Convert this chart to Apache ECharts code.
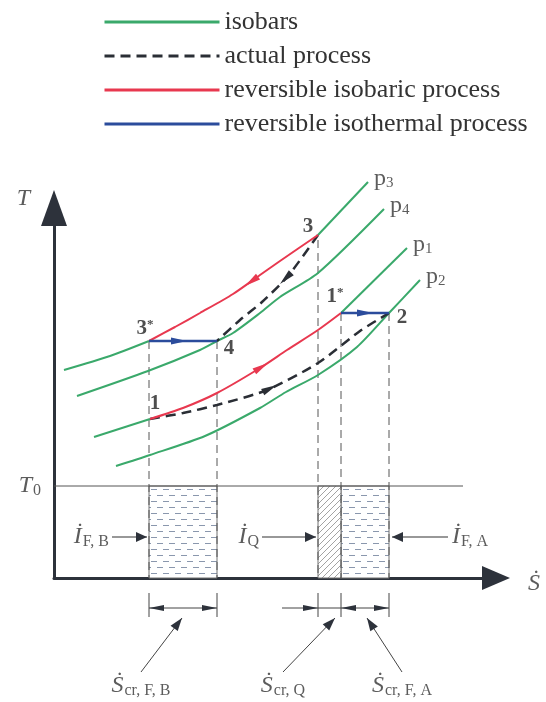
<!DOCTYPE html>
<html><head><meta charset="utf-8">
<script src="https://cdn.jsdelivr.net/npm/echarts@6/dist/echarts.min.js"></script>
<style>html,body{margin:0;padding:0;background:#fff}#c{width:546px;height:702px}</style>
</head><body><div id="c"></div>
<script>
// ---- data (chart units: S = entropy-rate axis, T = temperature axis, arbitrary) ----
const T0 = 92;
const isobarP3Low  = [[10,208],[56,222],[95,237]];
const isobarP3High = [[264,343],[314,396]];
const isobarP4     = [[23,182],[94,207],[146,228],[163,237],[179,245],[206,265],[226,281],[264,305],[330,369]];
const isobarP1Low  = [[40,141],[96,159]];
const isobarP1High = [[287,265],[353,330]];
const isobarP2     = [[62,112],[96,123],[151,142],[206,170],[232,186],[264,203],[303,231],[335,265],[366,298]];
const isobaric3to3s = [[264,343],[226,317],[206,303],[179,284],[146,265],[121,251],[95,237]];
const isobaric1to1s = [[96,159],[129,170],[163,185],[206,210],[233,228],[264,248],[287,265]];
const actual3to4    = [[264,343],[234,302],[208,276],[186,258],[163,237]];
const actual1to2    = [[96,159],[129,165],[163,173],[213,188],[264,215],[306,247],[335,265]];
const isothermal3sto4 = [[95,237],[163,237]];
const isothermal1sto2 = [[287,265],[335,265]];
// arrowheads on processes: [S_tail, T_tail, S_tip, T_tip]
const headsIsobaric   = [[205,302,191,292],[201,207,214,215]];
const headsActual     = [[235,303,226,294],[209,186,223,193]];
const headsIsothermal = [[116,237,133,237],[302,265,319,265]];
// state points
const stateNames = ['1','1*','2','3','3*','4'];
const stateS     = [96, 287, 335, 264, 95, 163];
const stateT     = [159, 265, 265, 343, 237, 237];
// isobar names (labels at line ends)
const isobarNames = ['3','4','1','2'];
// guide lines (vertical dashed)
const guideS    = [95, 163, 264, 287, 335];
const guideTopT = [237, 237, 338, 265, 265];
// exergy-loss areas below T0: [S1, S2, T1, T2]
const areasDashed  = [[95,163,0,T0],[287,335,0,T0]];
const areasHatched = [[264,287,0,T0]];
// exergy flow arrows [S_tail, T, S_tip, T]
const flowArrows = [[58,41,93,41],[208,41,262,41],[394,41,338,41]];
const flowNames  = ['F, B','Q','F, A'];
// dimension marks under the S axis
const dimTickS  = [95, 163, 264, 287, 335];
const dimTickT  = [-15, -39];
const dimLineT  = -30;
const dimSpans  = [[95,163],[228,335]];
const dimHeads  = [[113,-30,95,-30],[145,-30,163,-30],[246,-30,264,-30],[305,-30,287,-30],[317,-30,335,-30]];
const leaders   = [[87,-94,128,-40],[229,-94,281,-40],[348,-94,313,-40]];
const leaderNames = ['cr, F, B','cr, Q','cr, F, A'];
const legendNames = ['isobars','actual process','reversible isobaric process','reversible isothermal process'];

// ---- styles ----
const SERIF = 'Liberation Serif';
const GREEN = '#3aa96b', RED = '#e8384f', BLUE = '#2b4c9c', DARK = '#2a2e35', AX = '#2d323b', TXT = '#333333';

function mkCanvas(w, h, draw) { const c = document.createElement('canvas'); c.width = w; c.height = h; draw(c.getContext('2d')); return c; }
const dashPat = mkCanvas(12, 12, g => {
  g.fillStyle = '#ffffff'; g.fillRect(0, 0, 12, 12);
  g.fillStyle = '#8a97ad';
  g.fillRect(1, 3, 6, 1); g.fillRect(7, 9, 5, 1); g.fillRect(0, 9, 1, 1);
});
const hatchPat = mkCanvas(6, 6, g => {
  g.fillStyle = '#ffffff'; g.fillRect(0, 0, 6, 6);
  g.strokeStyle = '#8c8c8c'; g.lineWidth = 0.8;
  g.beginPath(); g.moveTo(-1, 7); g.lineTo(7, -1); g.stroke();
  g.beginPath(); g.moveTo(-1, 1); g.lineTo(1, -1); g.stroke();
  g.beginPath(); g.moveTo(5, 7); g.lineTo(7, 5); g.stroke();
});

function segRender(style) {
  return (params, api) => {
    const a = api.coord([api.value(0), api.value(1)]), b = api.coord([api.value(2), api.value(3)]);
    return { type: 'line', shape: { x1: a[0], y1: a[1], x2: b[0], y2: b[1] }, style: Object.assign({ fill: null }, style) };
  };
}
function headRender(color, L, W) {
  return (params, api) => {
    const tail = api.coord([api.value(0), api.value(1)]), tip = api.coord([api.value(2), api.value(3)]);
    let dx = tail[0] - tip[0], dy = tail[1] - tip[1];
    const d = Math.hypot(dx, dy) || 1; dx /= d; dy /= d;
    const bx = tip[0] + dx * L, by = tip[1] + dy * L, nx = -dy * W / 2, ny = dx * W / 2;
    return { type: 'polygon', shape: { points: [tip, [bx + nx, by + ny], [bx - nx, by - ny]] }, style: { fill: color } };
  };
}
function rectRender(fill) {
  return (params, api) => {
    const p1 = api.coord([api.value(0), api.value(3)]), p2 = api.coord([api.value(1), api.value(2)]);
    return { type: 'rect', shape: { x: p1[0], y: p1[1], width: p2[0] - p1[0], height: p2[1] - p1[1] },
      style: { fill: fill, stroke: '#707070', lineWidth: 1 } };
  };
}
const custom = (name, data, renderItem, z) => ({ type: 'custom', name, data, renderItem, z: z || 2, silent: true,
  encode: { x: [0, 2], y: [1, 3] }, clip: false });
const line = (name, data, color, width, dash, z) => ({ type: 'line', name, data, symbol: 'none', smooth: 0.25, clip: false, silent: true,
  z: z || 3, lineStyle: { color, width, type: dash || 'solid' }, itemStyle: { color } });
const labels = (name, data, label) => ({ type: 'scatter', name, data, symbolSize: 0, clip: false, silent: true, z: 10,
  label: Object.assign({ show: true }, label) });

const guideData = guideS.map((s, i) => [s, guideTopT[i], s, 0]);
const tickData = dimTickS.map(s => [s, dimTickT[0], s, dimTickT[1]]);
const spanData = dimSpans.map(p => [p[0], dimLineT, p[1], dimLineT]);

const stateOffsets = { '1': [5, -15], '1*': [-6, -16], '2': [13, 5], '3': [-10, -8], '3*': [-4, -12], '4': [12, 8] };
const endPts = [isobarP3High, isobarP4, isobarP1High, isobarP2].map(a => a[a.length - 1]);

const bigRich = () => ({
  m: { fontFamily: SERIF, fontStyle: 'italic', fontSize: 24, color: TXT, lineHeight: 26 },
  s: { fontFamily: SERIF, fontSize: 16, color: TXT, lineHeight: 16, verticalAlign: 'bottom', padding: [0, 0, 0, 1] }
});

const option = {
  animation: false,
  backgroundColor: '#ffffff',
  textStyle: { fontFamily: SERIF },
  grid: { left: 54, top: 208, width: 442, height: 370 },
  xAxis: { type: 'value', min: 0, max: 442,
    axisLine: { show: true, symbol: ['none', 'triangle'], symbolSize: [24, 28], lineStyle: { color: AX, width: 3 } },
    axisTick: { show: false }, axisLabel: { show: false }, splitLine: { show: false } },
  yAxis: { type: 'value', min: 0, max: 370,
    axisLine: { show: true, symbol: ['none', 'triangle'], symbolSize: [26, 36], lineStyle: { color: AX, width: 3 } },
    axisTick: { show: false }, axisLabel: { show: false }, splitLine: { show: false } },
  legend: { orient: 'vertical', left: 103, top: 9, padding: 0, itemWidth: 115, itemHeight: 12, itemGap: 8, selectedMode: false,
    itemStyle: { opacity: 0 }, lineStyle: { width: 3 },
    data: legendNames, textStyle: { fontFamily: SERIF, fontSize: 26, color: TXT, lineHeight: 26 } },
  series: [
    line('isobars', isobarP3Low, GREEN, 2),
    line('isobars', isobarP3High, GREEN, 2),
    line('isobars', isobarP4, GREEN, 2),
    line('isobars', isobarP1Low, GREEN, 2),
    line('isobars', isobarP1High, GREEN, 2),
    line('isobars', isobarP2, GREEN, 2),
    line('actual process', actual3to4, DARK, 2.5, [10, 6], 4),
    line('actual process', actual1to2, DARK, 2.5, [10, 6], 4),
    line('reversible isobaric process', isobaric3to3s, RED, 2, null, 4),
    line('reversible isobaric process', isobaric1to1s, RED, 2, null, 4),
    line('reversible isothermal process', isothermal3sto4, BLUE, 2.5, null, 5),
    line('reversible isothermal process', isothermal1sto2, BLUE, 2.5, null, 5),
    { type: 'custom', name: 'areaDash', data: areasDashed, renderItem: rectRender({ image: dashPat, repeat: 'repeat' }),
      encode: { x: [0, 1], y: [2, 3] }, clip: false, silent: true, z: 1 },
    { type: 'custom', name: 'areaHatch', data: areasHatched, renderItem: rectRender({ image: hatchPat, repeat: 'repeat' }),
      encode: { x: [0, 1], y: [2, 3] }, clip: false, silent: true, z: 1 },
    custom('guides', guideData, segRender({ stroke: '#555', lineWidth: 1, lineDash: [8, 5] }), 2),
    custom('T0line', [[0, T0, 409, T0]], segRender({ stroke: '#555', lineWidth: 1 }), 2),
    custom('headsIsobaric', headsIsobaric, headRender(RED, 16, 7), 6),
    custom('headsActual', headsActual, headRender(DARK, 16, 7), 6),
    custom('headsIsothermal', headsIsothermal, headRender(BLUE, 16, 7), 6),
    custom('flowLines', flowArrows, segRender({ stroke: '#333', lineWidth: 1.2 }), 6),
    custom('flowHeads', flowArrows, headRender('#2d323b', 11, 10), 6),
    custom('dimTicks', tickData, segRender({ stroke: '#444', lineWidth: 1 }), 6),
    custom('dimSpans', spanData, segRender({ stroke: '#444', lineWidth: 1 }), 6),
    custom('dimHeads', dimHeads, headRender('#2d323b', 15, 6), 6),
    custom('leaders', leaders, segRender({ stroke: '#444', lineWidth: 1 }), 6),
    custom('leaderHeads', leaders, headRender('#2d323b', 13, 9), 6),
    labels('stateLabels', stateNames.map((n, i) => ({ name: n, value: [stateS[i], stateT[i]],
      label: { offset: stateOffsets[n] } })), {
      position: 'inside',
      formatter: p => p.name.endsWith('*') ? '{n|' + p.name[0] + '}{s|*}' : '{n|' + p.name + '}',
      rich: { n: { fontFamily: SERIF, fontWeight: 'bold', fontSize: 21, color: '#222', lineHeight: 22 },
              s: { fontFamily: SERIF, fontWeight: 'bold', fontSize: 13, color: '#222', lineHeight: 12, verticalAlign: 'top' } } }),
    labels('isobarLabels', endPts.map((p, i) => ({ name: isobarNames[i], value: p })), {
      position: 'right', distance: 6, offset: [0, -3],
      formatter: p => '{p|p}{s|' + p.name + '}',
      rich: { p: { fontFamily: SERIF, fontSize: 24, color: TXT, lineHeight: 24 },
              s: { fontFamily: SERIF, fontSize: 15, color: TXT, lineHeight: 14, verticalAlign: 'bottom' } } }),
    labels('flowLabels', flowArrows.map((f, i) => ({ name: flowNames[i], value: [f[0], f[1]],
      label: { position: i < 2 ? 'left' : 'right', distance: i < 2 ? 3 : 4 } })), {
      formatter: p => '{m|\u0130}{s|' + p.name + '}', rich: bigRich() }),
    labels('leaderLabels', leaders.map((f, i) => ({ name: leaderNames[i], value: [f[0], f[1]] })), {
      position: 'bottom', distance: 1,
      formatter: p => '{m|\u1E60}{s|' + p.name + '}', rich: bigRich() }),
    labels('axisT', [{ name: 'T', value: [0, 370] }], { position: 'left', distance: 24, offset: [0, -9],
      formatter: '{m|T}', rich: bigRich() }),
    labels('axisS', [{ name: 'S', value: [442, 0] }], { position: 'right', distance: 32, offset: [0, 6],
      formatter: '{m|\u1E60}', rich: bigRich() }),
    labels('axisT0', [{ name: 'T0', value: [0, T0] }], { position: 'left', distance: 13, offset: [0, 0],
      formatter: '{m|T}{s|0}', rich: bigRich() })
  ]
};
const chart = echarts.init(document.getElementById('c'));
chart.setOption(option);
</script></body></html>
